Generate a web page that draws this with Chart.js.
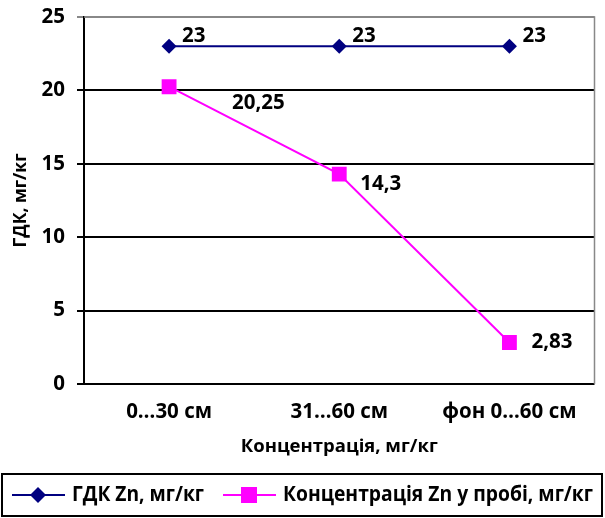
<!DOCTYPE html>
<html>
<head>
<meta charset="utf-8">
<script src="https://cdn.jsdelivr.net/npm/chart.js@4/dist/chart.umd.min.js"></script>
<style>
  html, body { margin: 0; padding: 0; background: #fff; }
  #wrap { width: 605px; height: 518px; position: relative; }
</style>
</head>
<body>
<div id="wrap"><canvas id="chart"></canvas></div>
<script>
const categories = ['0…30 см', '31…60 см', 'фон 0…60 см'];
const gdkValues = [23, 23, 23];
const sampleValues = [20.25, 14.3, 2.83];
const seriesNames = ['ГДК Zn, мг/кг', 'Концентрація Zn у пробі, мг/кг'];
const yTicks = [0, 5, 10, 15, 20, 25];

const FONT = '"Open Sans", Roboto, sans-serif';
const NAVY = '#000080';
const MAGENTA = '#ff00ff';

// label offsets per dataset/point (x, y) relative to point
const labelOffsets = [
  [[13, -10], [13, -10], [13, -10]],
  [[63, 16], [21, 10], [22, 0]]
];

const fmt = v => String(v).replace('.', ',');

const dataLabels = {
  id: 'dataLabels',
  afterDatasetsDraw(chart) {
    const ctx = chart.ctx;
    ctx.save();
    ctx.font = 'bold 20.5px ' + FONT;
    ctx.fillStyle = '#000';
    ctx.textAlign = 'left';
    ctx.textBaseline = 'middle';
    chart.data.datasets.forEach((ds, i) => {
      chart.getDatasetMeta(i).data.forEach((pt, j) => {
        const off = labelOffsets[i][j];
        ctx.fillText(fmt(ds.data[j]), pt.x + off[0], pt.y + off[1]);
      });
    });
    ctx.restore();
  }
};

const frame = {
  id: 'frame',
  beforeDatasetsDraw(chart) {
    const {ctx, chartArea: a} = chart;
    ctx.save();
    ctx.strokeStyle = '#888';
    ctx.lineWidth = 1.5;
    ctx.beginPath();
    ctx.moveTo(a.left, a.top);
    ctx.lineTo(a.right, a.top);
    ctx.lineTo(a.right, a.bottom);
    ctx.stroke();
    ctx.restore();
  }
};

const boxLegend = {
  id: 'boxLegend',
  afterDraw(chart) {
    const ctx = chart.ctx;
    ctx.save();
    ctx.strokeStyle = '#000';
    ctx.lineWidth = 2;
    ctx.strokeRect(2, 474, 600, 42);
    const items = [
      {x: 12, w: 132, ds: chart.data.datasets[0]},
      {x: 223, w: 310, ds: chart.data.datasets[1]}
    ];
    const y = 495;
    items.forEach(it => {
      ctx.strokeStyle = it.ds.borderColor;
      ctx.lineWidth = 2;
      ctx.beginPath();
      ctx.moveTo(it.x, y);
      ctx.lineTo(it.x + 53, y);
      ctx.stroke();
      const cx = it.x + 26;
      ctx.fillStyle = it.ds.backgroundColor;
      ctx.beginPath();
      if (it.ds.pointStyle === 'rect') {
        ctx.rect(cx - 8, y - 8, 16, 16);
      } else {
        ctx.moveTo(cx - 8, y);
        ctx.lineTo(cx, y - 8);
        ctx.lineTo(cx + 8, y);
        ctx.lineTo(cx, y + 8);
        ctx.closePath();
      }
      ctx.fill();
      ctx.fillStyle = '#000';
      ctx.font = 'bold 21px ' + FONT;
      ctx.textBaseline = 'middle';
      ctx.fillText(it.ds.label, it.x + 60, y, it.w);
    });
    ctx.restore();
  }
};

new Chart(document.getElementById('chart'), {
  type: 'line',
  data: {
    labels: categories,
    datasets: [{
      label: seriesNames[0],
      data: gdkValues,
      borderColor: NAVY,
      backgroundColor: NAVY,
      borderWidth: 2,
      pointStyle: 'rectRot',
      pointRadius: 7.5,
      pointBorderWidth: 0,
      tension: 0
    }, {
      label: seriesNames[1],
      data: sampleValues,
      borderColor: MAGENTA,
      backgroundColor: MAGENTA,
      borderWidth: 2,
      pointStyle: 'rect',
      pointRadius: 10.5,
      pointBorderWidth: 0,
      tension: 0
    }]
  },
  options: {
    responsive: true,
    maintainAspectRatio: false,
    animation: false,
    layout: { padding: { left: 0, top: 17, right: 9, bottom: 54 } },
    plugins: {
      legend: { display: false },
      tooltip: { enabled: false }
    },
    scales: {
      x: {
        offset: true,
        grid: { display: false, drawTicks: false },
        border: { display: false },
        ticks: {
          color: '#000',
          padding: 16,
          font: { family: FONT, size: 20.5, weight: 'bold' }
        },
        title: {
          display: true,
          text: 'Концентрація, мг/кг',
          color: '#000',
          padding: { top: 0, bottom: 6 },
          font: { family: FONT, size: 18.5, weight: 'bold' }
        },
        afterFit(scale) {
          scale.height = 80;
          scale.paddingLeft = 0;
          scale.paddingRight = 0;
        }
      },
      y: {
        min: 0,
        max: 25,
        afterBuildTicks(scale) { scale.ticks = yTicks.map(v => ({value: v})); },
        grid: {
          color: ctx => ctx.tick && ctx.tick.value === 25 ? '#888' : '#000',
          lineWidth: 2,
          tickLength: 7,
          drawTicks: true
        },
        border: { display: true, color: '#000', width: 2 },
        ticks: {
          color: '#000',
          padding: 12,
          font: { family: FONT, size: 20.5, weight: 'bold' }
        },
        title: {
          display: true,
          text: 'ГДК, мг/кг',
          color: '#000',
          padding: { top: 11, bottom: 0 },
          font: { family: FONT, size: 17.5, weight: 'bold' }
        },
        afterFit(scale) {
          scale.width = 84;
          scale.paddingTop = 0;
          scale.paddingBottom = 0;
        }
      }
    }
  },
  plugins: [frame, dataLabels, boxLegend]
});
</script>
</body>
</html>
